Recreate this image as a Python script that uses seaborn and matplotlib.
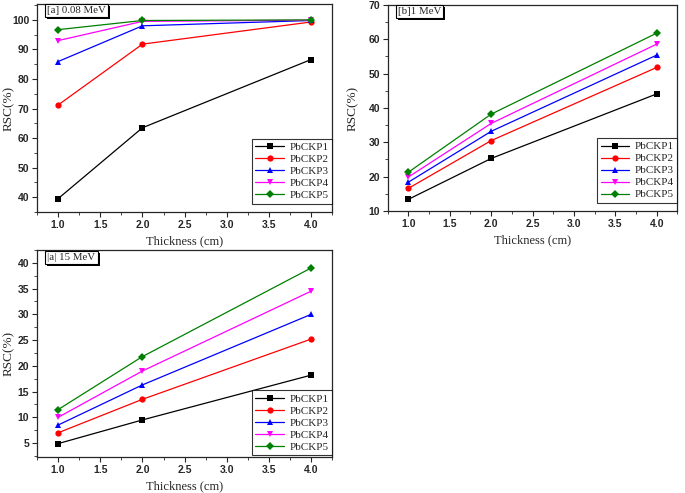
import pandas as pd
import numpy as np
import matplotlib
matplotlib.use('Agg')
import matplotlib.pyplot as plt
import matplotlib.patheffects as pe
from matplotlib.ticker import MultipleLocator, AutoMinorLocator, FormatStrFormatter
import seaborn as sns

thickness = [1.0, 2.0, 4.0]
samples = ['PbCKP1', 'PbCKP2', 'PbCKP3', 'PbCKP4', 'PbCKP5']

rsc_008 = [
    [39.5, 63.5, 86.6],
    [71.2, 91.8, 99.3],
    [85.9, 98.0, 99.8],
    [93.0, 99.5, 99.9],
    [96.7, 99.8, 100.0],
]
rsc_1 = [
    [13.4, 25.3, 44.1],
    [16.6, 30.5, 51.8],
    [18.4, 33.2, 55.4],
    [19.9, 35.5, 58.6],
    [21.3, 38.2, 61.8],
]
rsc_15 = [
    [4.9, 9.5, 18.2],
    [7.0, 13.5, 25.2],
    [8.5, 16.3, 30.0],
    [10.0, 19.0, 34.5],
    [11.5, 21.8, 39.0],
]

colors = ['black', 'red', 'blue', 'magenta', '#008000']
markers = ['s', 'o', '^', 'v', 'D']


def to_long(values):
    rows = []
    for name, vals in zip(samples, values):
        for t, v in zip(thickness, vals):
            rows.append({'Thickness': t, 'RSC': v, 'Sample': name})
    return pd.DataFrame(rows)


sns.set_style('ticks')
plt.rcParams['font.family'] = ['Liberation Sans', 'DejaVu Sans']

fig = plt.figure(figsize=(6.85, 4.93), dpi=100)
# data, axes rect, ylim, y step, tag, ylabel x pos, legend y anchor, tag y
panels = [
    (rsc_008, [0.054, 0.570, 0.431, 0.422], (35.0, 105.4), 10, '[a] 0.08 MeV', -0.075, 0.04, 0.99),
    (rsc_1, [0.566, 0.572, 0.423, 0.418], (10, 70), 10, '[b]1 MeV', -0.10, 0.04, 0.99),
    (rsc_15, [0.054, 0.073, 0.431, 0.420], (2.3, 42.5), 5, '|a| 15 MeV', -0.075, 0.01, 0.985),
]

serif = ['Liberation Serif', 'DejaVu Serif']

for values, rect, ylim, ystep, tag, ylab_x, leg_y, tag_y in panels:
    ax = fig.add_axes(rect)
    df = to_long(values)
    sns.lineplot(data=df, x='Thickness', y='RSC', hue='Sample', style='Sample',
                 palette=colors, markers=markers, dashes=False, markersize=4.5,
                 markeredgewidth=0, linewidth=0.9, ax=ax)
    ax.set_xlim(0.75, 4.25)
    ax.set_ylim(*ylim)
    ax.xaxis.set_major_locator(MultipleLocator(0.5))
    ax.xaxis.set_minor_locator(AutoMinorLocator(2))
    ax.yaxis.set_major_locator(MultipleLocator(ystep))
    ax.yaxis.set_minor_locator(AutoMinorLocator(2))
    ax.xaxis.set_major_formatter(FormatStrFormatter('%.1f'))
    ax.tick_params(which='major', direction='out', length=3.5, width=0.8,
                   labelsize=7.5, pad=2)
    ax.tick_params(which='minor', direction='out', length=2, width=0.6)
    for lab in ax.get_xticklabels() + ax.get_yticklabels():
        lab.set_fontweight('bold')
    for s in ax.spines.values():
        s.set_linewidth(0.9)
        s.set_visible(True)
    ax.set_xlabel('Thickness (cm)', family=serif, fontsize=9, labelpad=4)
    ax.set_ylabel('RSC(%)', family=serif, fontsize=9.5)
    ax.yaxis.set_label_coords(ylab_x, 0.5)

    leg = ax.legend(loc='lower right', frameon=True, fancybox=False,
                    prop={'family': serif, 'size': 8}, handlelength=2.6,
                    borderaxespad=0.0, labelspacing=0.2, borderpad=0.3,
                    handletextpad=0.5, bbox_to_anchor=(1.0, leg_y))
    leg.get_frame().set_edgecolor('black')
    leg.get_frame().set_linewidth(0.8)

    t = ax.text(0.035, tag_y, tag, transform=ax.transAxes, family=serif,
                fontsize=7.8, va='top', ha='left',
                bbox=dict(boxstyle='square,pad=0.2', fc='white', ec='black', lw=0.8))
    t.get_bbox_patch().set_path_effects([
        pe.SimplePatchShadow(offset=(1.5, -1.5), shadow_rgbFace='black', alpha=1),
        pe.Normal()])

fig.savefig('out.png', dpi=100)
